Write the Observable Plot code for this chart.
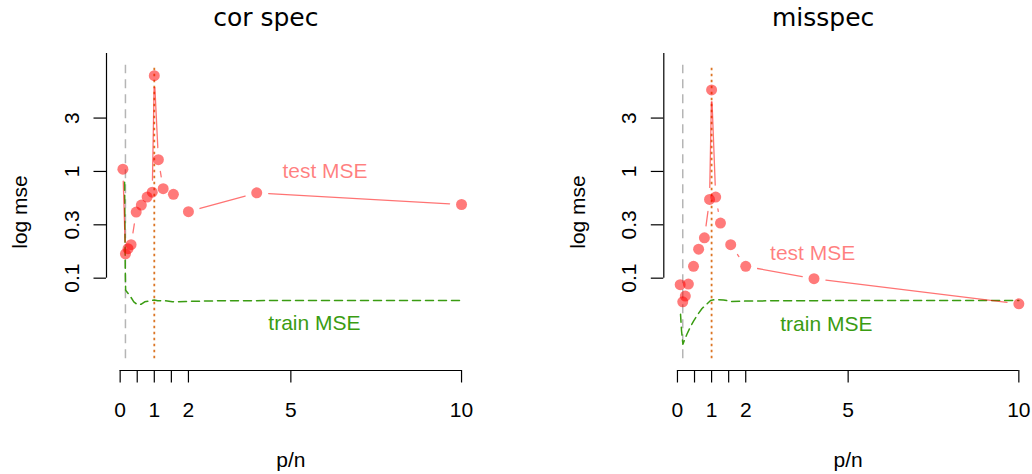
<!DOCTYPE html>
<html><head><meta charset="utf-8">
<script src="https://cdn.jsdelivr.net/npm/d3@7"></script>
<script src="https://cdn.jsdelivr.net/npm/@observablehq/plot@0.6"></script>
<style>
body{margin:0;background:#fff}
#wrap{display:flex;width:1032px;height:474px;overflow:hidden}
</style>
</head><body><div id="wrap"></div>
<script>
// ---- data ----
const titles = ["cor spec", "misspec"];
const pn = [0.08, 0.155, 0.23, 0.32, 0.47, 0.62, 0.79, 0.94, 1.0, 1.12, 1.26, 1.56, 2, 4, 10];
const testCor = [1.05, 0.169, 0.189, 0.206, 0.416, 0.484, 0.575, 0.64, 7.9, 1.29, 0.69, 0.61, 0.42, 0.63, 0.49];
const testMis = [0.087, 0.060, 0.068, 0.088, 0.129, 0.187, 0.239, 0.547, 5.8, 0.575, 0.328, 0.206, 0.129, 0.099, 0.0575];
const trainCorX = [0.13, 0.14, 0.15, 0.16, 0.28, 0.4, 0.51, 0.62, 0.72, 0.89, 1.0, 1.1, 1.28, 1.53, 1.92, 3, 5, 10];
const trainCorY = [0.79, 0.3, 0.12, 0.077, 0.069, 0.060, 0.0563, 0.057, 0.060, 0.0615, 0.0625, 0.0615, 0.0617, 0.0600, 0.0605, 0.0615, 0.0617, 0.0617];
const trainMisX = [0.09, 0.12, 0.16, 0.2, 0.28, 0.38, 0.48, 0.58, 0.72, 0.87, 0.97, 1.1, 1.35, 1.6, 2, 3, 5, 10];
const trainMisY = [0.046, 0.032, 0.024, 0.026, 0.030, 0.035, 0.040, 0.045, 0.052, 0.0575, 0.0617, 0.063, 0.0625, 0.0605, 0.061, 0.0615, 0.0617, 0.0618];
const thresholdX = 0.155;   // grey dashed line
const interpX = 1;          // orange dotted line
const testLabelPos = [[6, 1.0], [3.96, 0.172]];
const trainLabelPos = [[5.69, 0.038], [4.36, 0.0368]];
const xTicks = [0, 0.5, 1, 1.5, 2, 5, 10];
const xTickLabels = ["0", "", "1", "", "2", "5", "10"];
const yTickExp = [-1, -0.5, 0, 0.5];
const yTickLabels = ["0.1", "0.3", "1", "3"];

// ---- layout / scales ----
const yLimLo = 10 ** -1.755, yLimHi = 10 ** 0.995;      // data limits (ylim)
const yDomLo = 10 ** -1.865, yDomHi = 10 ** 1.105;      // plot region (4% extension)
const xDom = [-0.4, 10.4];
const yTicks = yTickExp.map(e => 10 ** e);
const yLabelMap = new Map(yTicks.map((t, i) => [t, yTickLabels[i]]));
const xLabelMap = new Map(xTicks.map((t, i) => [t, xTickLabels[i]]));

const RED = "#ff0000";
const GREEN = "#3a9c12";
const FS = 21;

function panel(k, test, trainX, trainY, marginLeft, marginRight) {
  const pts = pn.map((x, i) => ({x, y: test[i]}));
  const segs = pts.slice(1).map((p, i) => ({x1: pts[i].x, y1: pts[i].y, x2: p.x, y2: p.y}));
  const train = trainX.map((x, i) => ({x, y: trainY[i]}));
  return Plot.plot({
    width: 516, height: 474,
    marginLeft, marginRight, marginTop: 53, marginBottom: 104,
    x: {domain: xDom},
    y: {type: "log", domain: [yDomLo, yDomHi]},
    style: {fontFamily: "'Liberation Sans', Arial, sans-serif", fontSize: FS + "px", background: "white", overflow: "visible", color: "black"},
    marks: [
      Plot.ruleX([thresholdX], {y1: yLimLo, y2: yLimHi, stroke: "#b5b5b5", strokeWidth: 1.5, strokeDasharray: "9,6"}),
      Plot.ruleX([interpX], {y1: yLimLo, y2: yLimHi, stroke: "#dc7626", strokeWidth: 1.8, strokeDasharray: "2.5,3.5"}),
      Plot.line(train, {x: "x", y: "y", stroke: GREEN, strokeWidth: 1.5, strokeDasharray: "8,5"}),
      Plot.arrow(segs, {x1: "x1", y1: "y1", x2: "x2", y2: "y2", headLength: 0, insetStart: 12, insetEnd: 12, stroke: RED, strokeOpacity: 0.55, strokeWidth: 1.3}),
      Plot.dot(pts, {x: "x", y: "y", r: 5.5, fill: RED, fillOpacity: 0.52, stroke: null}),
      Plot.text([testLabelPos[k]], {x: d => d[0], y: d => d[1], text: () => "test MSE", fill: RED, fillOpacity: 0.5, fontSize: FS}),
      Plot.text([trainLabelPos[k]], {x: d => d[0], y: d => d[1], text: () => "train MSE", fill: GREEN, fontSize: FS}),
      Plot.ruleY([yDomLo], {x1: 0, x2: 10, stroke: "black", strokeWidth: 1.2}),
      Plot.ruleX([xDom[0]], {y1: 0.1, y2: yDomHi, stroke: "black", strokeWidth: 1.2}),
      Plot.axisX({ticks: xTicks, tickFormat: d => xLabelMap.get(d), tickSize: 12.5, tickPadding: 19.5, label: null, fontSize: FS, strokeWidth: 1.2}),
      Plot.axisY({ticks: yTicks, tickFormat: d => yLabelMap.get(d), tickRotate: -90, tickSize: 12.5, tickPadding: 15, label: null, fontSize: FS, strokeWidth: 1.2}),
      Plot.text([titles[k]], {frameAnchor: "top", textAnchor: "middle", lineAnchor: "middle", dx: -25, dy: -35.5, fontSize: 25, fontFamily: "'DejaVu Sans', sans-serif"}),
      Plot.text(["p/n"], {frameAnchor: "bottom", textAnchor: "middle", lineAnchor: "middle", dy: 89.5, fontSize: FS}),
      Plot.text(["log mse"], {frameAnchor: "left", textAnchor: "middle", lineAnchor: "middle", dx: -86, rotate: -90, fontSize: FS})
    ]
  });
}

const wrap = document.getElementById("wrap");
wrap.appendChild(panel(0, testCor, trainCorX, trainCorY, 106, 41.3));
wrap.appendChild(panel(1, testMis, trainMisX, trainMisY, 147.3, 0));
</script>
</body></html>
